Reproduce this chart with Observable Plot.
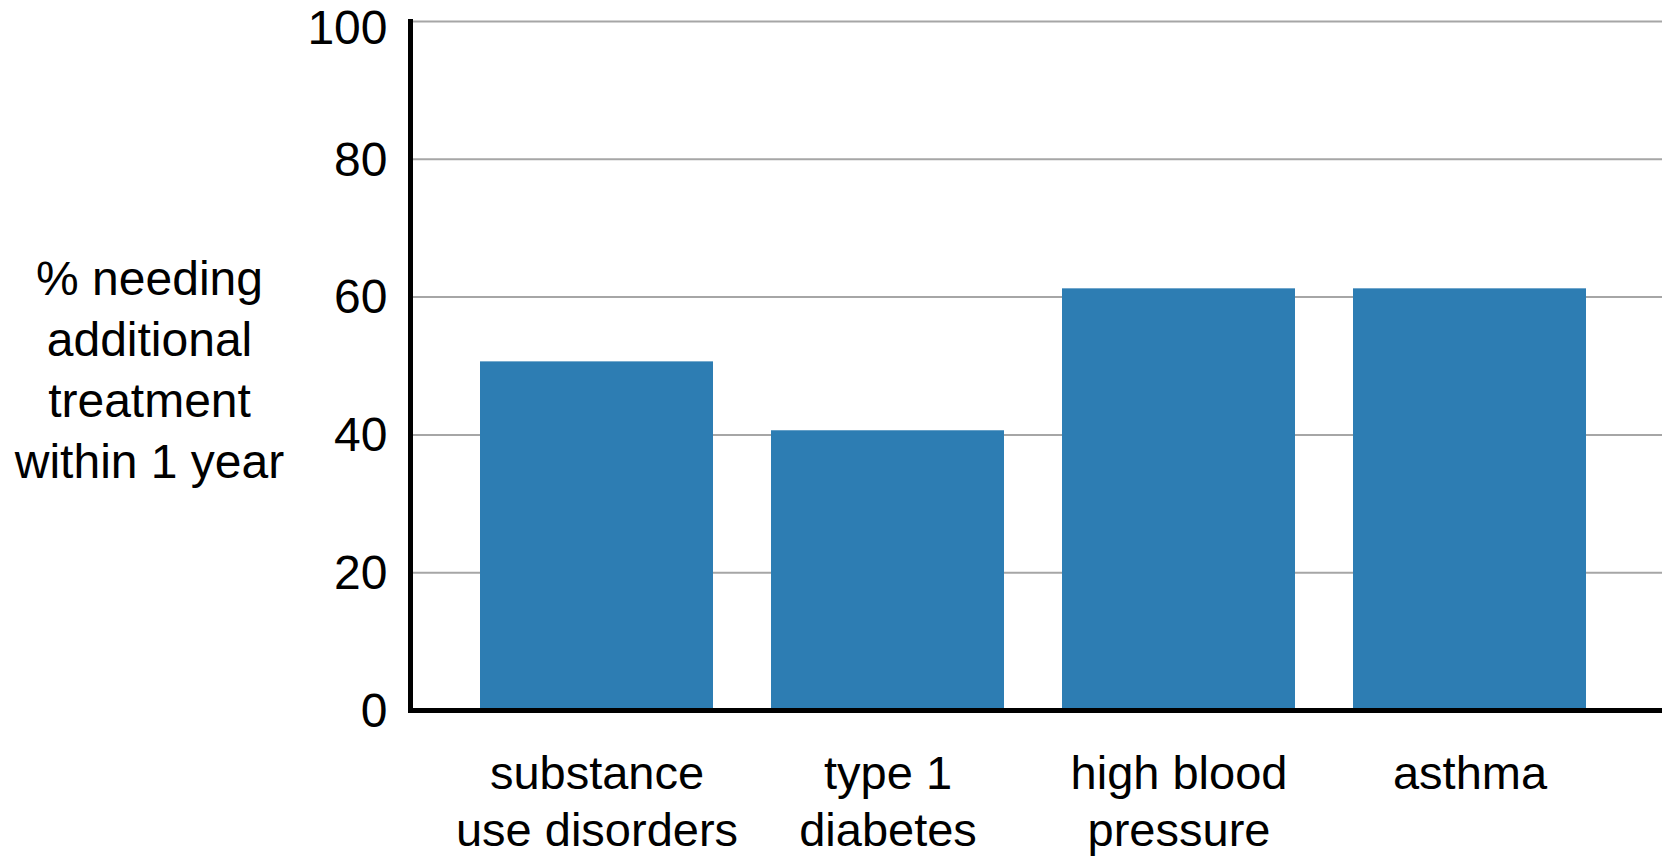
<!DOCTYPE html>
<html>
<head>
<meta charset="utf-8">
<script src="https://cdn.jsdelivr.net/npm/d3@7"></script>
<script src="https://cdn.jsdelivr.net/npm/@observablehq/plot@0.6"></script>
<style>
  html, body { margin: 0; padding: 0; background: #fff; }
  #chart svg { display: block; }
</style>
</head>
<body>
<div id="chart"></div>
<script>
// Share of patients needing additional treatment within 1 year, by condition
const conditions = ["substance use disorders", "type 1 diabetes", "high blood pressure", "asthma"];
const tickLabels = ["substance\nuse disorders", "type 1\ndiabetes", "high blood\npressure", "asthma"];
const percentages = [50.6, 40.6, 61.2, 61.2];
const yTicks = [0, 20, 40, 60, 80, 100];
const yTitle = "% needing\nadditional\ntreatment\nwithin 1 year";

const rows = conditions.map((c, i) => ({condition: c, value: percentages[i]}));
const labelOf = new Map(conditions.map((c, i) => [c, tickLabels[i]]));

const font = "'Liberation Sans', Arial, Helvetica, sans-serif";
const yAxisStyle = {tickSize: 0, tickPadding: 23, fontSize: 48, label: null, fill: "#000"};
const topTick = yTicks[yTicks.length - 1];

const chart = Plot.plot({
  width: 1662,
  height: 857,
  marginLeft: 410,
  marginRight: 0,
  marginTop: 21,
  marginBottom: 147,
  style: {fontFamily: font, color: "#000", background: "#fff"},
  x: {domain: conditions, paddingInner: 0.2, paddingOuter: 0.25, align: 0.48},
  y: {domain: [0, 100]},
  marks: [
    Plot.gridY(yTicks, {stroke: "#a6a6a6", strokeOpacity: 1, strokeWidth: 2}),
    Plot.barY(rows, {x: "condition", y: "value", fill: "#2d7db3"}),
    // the top label sits a little lower so it stays clear of the edge
    Plot.axisY(yTicks.filter(t => t !== topTick), {...yAxisStyle, dy: 1}),
    Plot.axisY([topTick], {...yAxisStyle, dy: 7}),
    Plot.axisX({
      tickSize: 0, tickPadding: 37, fontSize: 47, lineHeight: 1.23, label: null, fill: "#000",
      tickFormat: d => labelOf.get(d)
    }),
    Plot.text([yTitle], {
      frameAnchor: "left", dx: -261, dy: 1, textAnchor: "middle",
      fontSize: 48, lineHeight: 1.27, fill: "#000"
    }),
    Plot.ruleY([0], {stroke: "#000", strokeWidth: 5}),
    Plot.frame({anchor: "left", stroke: "#000", strokeWidth: 5})
  ]
});

document.getElementById("chart").appendChild(chart);
</script>
</body>
</html>
